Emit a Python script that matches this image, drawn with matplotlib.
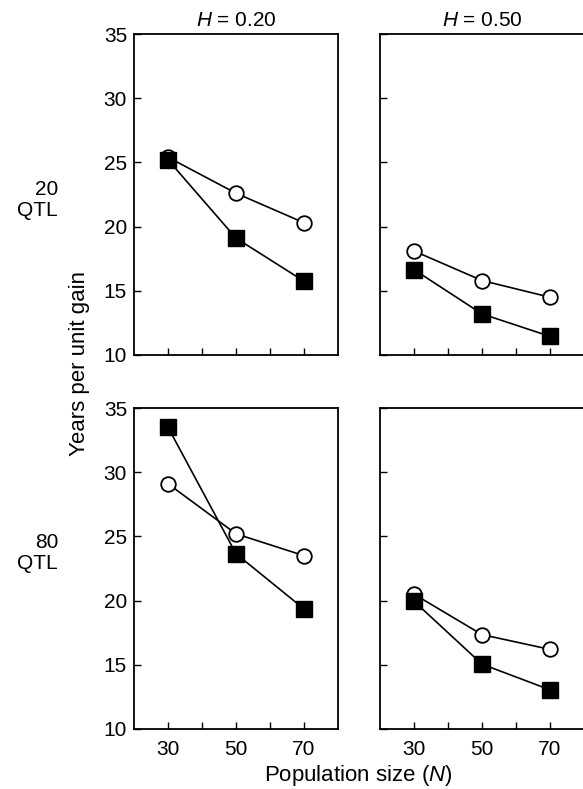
import matplotlib
matplotlib.use("Agg")
import matplotlib.pyplot as plt

plt.rcParams['font.family'] = ['Liberation Sans', 'DejaVu Sans']
plt.rcParams['mathtext.fontset'] = 'custom'
plt.rcParams['mathtext.it'] = 'Liberation Sans:italic'

pop_size = [30, 50, 70]
heritability = ["0.20", "0.50"]
qtl_labels = ["20\nQTL", "80\nQTL"]

# open circles / filled squares, rows = QTL number, cols = H
circles = {
    (0, 0): [25.4, 22.6, 20.3],
    (0, 1): [18.1, 15.8, 14.5],
    (1, 0): [29.1, 25.2, 23.5],
    (1, 1): [20.5, 17.35, 16.2],
}
squares = {
    (0, 0): [25.2, 19.1, 15.75],
    (0, 1): [16.65, 13.2, 11.45],
    (1, 0): [33.5, 23.65, 19.35],
    (1, 1): [19.95, 15.05, 13.05],
}

fig = plt.figure(figsize=(5.83, 7.89), dpi=100)

W, H = 583, 789
lefts = [134, 380]
tops = [34, 408]
aw, ah = 204, 321
qtl_y = [200, 553]

for r in range(2):
    for c in range(2):
        ax = fig.add_axes([lefts[c] / W, 1 - (tops[r] + ah) / H, aw / W, ah / H])
        ax.plot(pop_size, circles[(r, c)], color='black', lw=1.2, marker='o',
                ms=10.5, mfc='white', mec='black', mew=1.3, zorder=3)
        ax.plot(pop_size, squares[(r, c)], color='black', lw=1.2, marker='s',
                ms=12, mfc='black', mec='black', zorder=4)
        ax.set_xlim(20, 80)
        ax.set_ylim(10, 35)
        ax.set_xticks([30, 40, 50, 60, 70])
        ax.set_yticks([10, 15, 20, 25, 30, 35])
        ax.tick_params(direction='in', length=5, width=1, labelsize=15)
        ax.tick_params(axis='x', pad=8)
        ax.tick_params(axis='y', pad=5)
        for s in ax.spines.values():
            s.set_linewidth(1.3)
        if r == 1:
            ax.set_xticklabels(['30', '', '50', '', '70'])
        else:
            ax.set_xticklabels([])
        if c == 1:
            ax.set_yticklabels([])
        if r == 0:
            ax.set_title(r'$H$ = ' + heritability[c], fontsize=15, pad=6)
        if c == 0:
            fig.text(58 / W, 1 - qtl_y[r] / H, qtl_labels[r], ha='right',
                     va='center', fontsize=15, linespacing=1.15)

fig.text(80 / W, 1 - 364 / H, 'Years per unit gain', rotation=90,
         ha='center', va='center', fontsize=16)
fig.text(358 / W, 1 - 775 / H, r'Population size ($N$)',
         ha='center', va='center', fontsize=16)

fig.savefig('out.png', dpi=100)
